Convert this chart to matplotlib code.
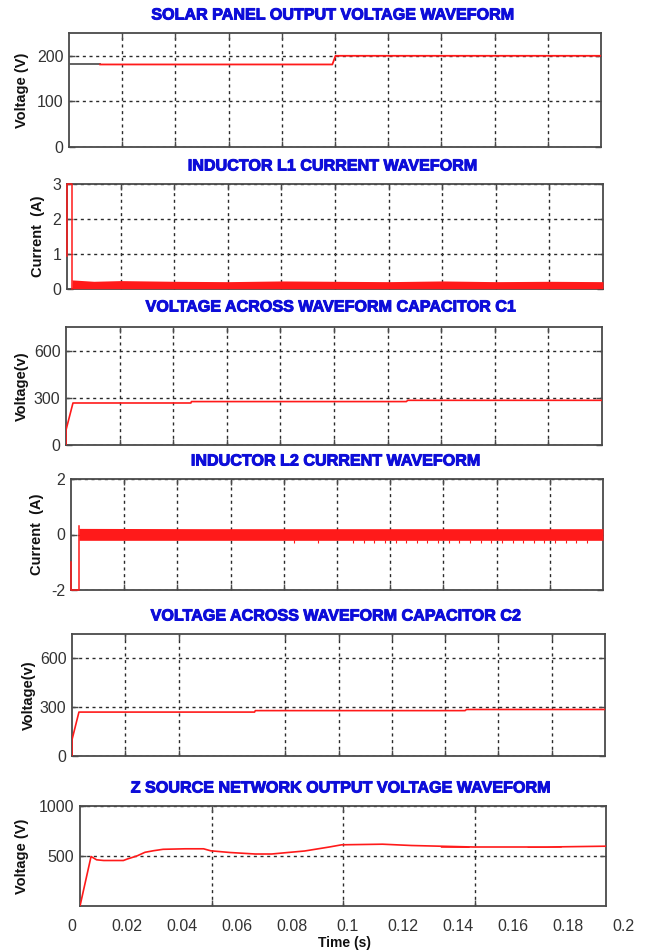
import matplotlib.pyplot as plt
import matplotlib.patheffects as pe

plt.rcParams['font.family'] = ['Liberation Sans', 'DejaVu Sans']

W, H = 646, 952
RED = '#ff1a1a'
BLUE = '#0d0dd9'
GRID = '#2a2a2a'
FRAME = '#4a4a4a'
TXT = '#333333'

# ---------------- data (time in seconds) ----------------
titles = ['SOLAR PANEL OUTPUT VOLTAGE WAVEFORM',
          'INDUCTOR L1 CURRENT WAVEFORM',
          'VOLTAGE ACROSS WAVEFORM CAPACITOR C1',
          'INDUCTOR L2 CURRENT WAVEFORM',
          'VOLTAGE ACROSS WAVEFORM CAPACITOR C2',
          'Z SOURCE NETWORK OUTPUT VOLTAGE WAVEFORM']
ylabels = ['Voltage (V)', 'Current  (A)', 'Voltage(v)',
           'Current  (A)', 'Voltage(v)', 'Voltage (V)']
ylims = [(0, 250), (0, 3), (0, 750), (-2, 2), (0, 750), (0, 1000)]
yticks = [[0, 100, 200], [0, 1, 2, 3], [0, 300, 600],
          [-2, 0, 2], [0, 300, 600], [500, 1000]]

grid_t = [0.02, 0.04, 0.06, 0.08, 0.1, 0.12, 0.14, 0.16, 0.18]
grid_t_c2 = [0.02, 0.04, 0.08, 0.1, 0.12, 0.14, 0.16, 0.18]
grid_t_z = [0.05, 0.1, 0.15]
time_ticks = [0, 0.02, 0.04, 0.06, 0.08, 0.1, 0.12, 0.14, 0.16, 0.18, 0.2]
time_labels = ['0', '0.02', '0.04', '0.06', '0.08', '0.1',
               '0.12', '0.14', '0.16', '0.18', '0.2']

# solar panel voltage
pv_init_t = [0.0, 0.0117]
pv_init_v = [181, 181]
pv_t = [0.0117, 0.0990, 0.1002, 0.2]
pv_v = [181, 181, 200, 200]

# inductor L1 current: start-up spike then switching ripple
l1_t = [0.0, 0.0, 0.0019, 0.0019]
l1_i = [0.95, 3.0, 3.0, 0.0]
l1_band_t = [0.0019, 0.01, 0.02, 0.04, 0.06, 0.08, 0.1, 0.12, 0.14, 0.16, 0.18, 0.2]
l1_band_hi = [0.26, 0.22, 0.24, 0.22, 0.21, 0.23, 0.22, 0.21, 0.23, 0.21, 0.22, 0.21]
l1_band_lo = [0.01, 0.01, 0.01, 0.01, 0.01, 0.01, 0.01, 0.01, 0.01, 0.01, 0.01, 0.01]

# capacitor C1 voltage
c1_t = [0.0, 0.0, 0.0026, 0.0466, 0.0468, 0.127, 0.1275, 0.2]
c1_v = [0, 95, 267, 267, 276, 276, 284, 284]

# inductor L2 current
l2_t = [0.0, 0.0, 0.003, 0.003]
l2_i = [-1.0, -2.0, -2.0, 0.3]
l2_band_t = [0.003, 0.05, 0.1, 0.15, 0.2]
l2_band_hi = [0.22, 0.21, 0.21, 0.21, 0.21]
l2_band_lo = [-0.21, -0.21, -0.21, -0.21, -0.21]
l2_notch_t = [0.084, 0.093, 0.106, 0.110, 0.114, 0.118, 0.122, 0.126,
              0.130, 0.134, 0.138, 0.142, 0.146, 0.150, 0.154, 0.158,
              0.162, 0.166, 0.170, 0.174, 0.178, 0.182, 0.186, 0.190, 0.194]
l2_notch_depth = -0.29

# capacitor C2 voltage
c2_t = [0.0, 0.0, 0.0026, 0.0685, 0.0688, 0.1475, 0.148, 0.2]
c2_v = [0, 100, 270, 270, 279, 279, 286, 286]

# Z source network output voltage
z_t = [0.0, 0.0042, 0.0063, 0.009, 0.0165, 0.018, 0.0216, 0.0247, 0.028,
       0.0316, 0.04, 0.047, 0.0497, 0.057, 0.0666, 0.0729, 0.079, 0.0854,
       0.0948, 0.0995, 0.115, 0.126, 0.1385, 0.1495, 0.1776, 0.2]
z_v = [0, 495, 462, 455, 455, 470, 500, 537, 553, 567, 572, 572, 552, 535,
       520, 520, 535, 550, 590, 612, 618, 605, 597, 590, 590, 598]
z_rip_t = [[0.137, 0.148], [0.170, 0.183]]
z_rip_lo = [[587, 585], [586, 588]]
z_rip_hi = [[598, 596], [596, 598]]

# ---------------- layout (pixels) ----------------
boxes = [(69, 601, 33, 147), (67, 603, 184, 289), (66, 602, 327, 445),
         (71, 603, 479, 590), (72, 605, 634, 756), (80, 606, 806, 906)]
title_xy = [(333, 15), (333, 166), (331, 307), (336, 461), (336, 616), (341, 788)]
ylabel_x = [22, 38, 22, 37, 29, 22]
xgrids = [grid_t, grid_t, grid_t, grid_t, grid_t_c2, grid_t_z]

heavy = [pe.withStroke(linewidth=0.7, foreground=BLUE)]

fig = plt.figure(figsize=(W / 100, H / 100), dpi=100)
axes = []
for i, (l, r, t, b) in enumerate(boxes):
    ax = fig.add_axes([l / W, 1 - b / H, (r - l) / W, (b - t) / H])
    ax.set_xlim(0, 0.2)
    ax.set_ylim(*ylims[i])
    ax.set_xticks(xgrids[i])
    ax.set_xticklabels([])
    ax.set_yticks(yticks[i])
    ax.set_yticklabels([str(v) for v in yticks[i]])
    ax.tick_params(direction='in', top=True, right=True, length=4, width=1,
                   color=FRAME, labelsize=11.5, labelcolor=TXT, pad=4)
    ax.grid(True, linestyle=(0, (2.2, 2.6)), color=GRID, lw=1.0)
    for s in ax.spines.values():
        s.set_color(FRAME)
        s.set_linewidth(1.3)
    ax.set_ylabel(ylabels[i], fontweight='bold', fontsize=10.5, va='center', color='#111')
    ax.yaxis.set_label_coords(ylabel_x[i] / W, 1 - (t + b) / 2 / H, transform=fig.transFigure)
    fig.text(title_xy[i][0] / W, 1 - title_xy[i][1] / H, titles[i], ha='center', va='center',
             color=BLUE, fontsize=11.6, fontweight='bold', path_effects=heavy)
    axes.append(ax)

ax1, ax2, ax3, ax4, ax5, ax6 = axes

ax1.plot(pv_init_t, pv_init_v, color='#555555', lw=1.3, zorder=3)
ax1.plot(pv_t, pv_v, color=RED, lw=1.3, zorder=3)

ax2.plot(l1_t, l1_i, color=RED, lw=1.1, zorder=3, clip_on=False)
ax2.fill_between(l1_band_t, l1_band_lo, l1_band_hi, color=RED, lw=0, zorder=3)

ax3.plot(c1_t, c1_v, color=RED, lw=1.2, zorder=3)

ax4.plot(l2_t, l2_i, color=RED, lw=1.1, zorder=3, clip_on=False)
ax4.fill_between(l2_band_t, l2_band_lo, l2_band_hi, color=RED, lw=0, zorder=3)
ax4.vlines(l2_notch_t, l2_band_lo[0], l2_notch_depth, color=RED, lw=0.8, zorder=3)

ax5.plot(c2_t, c2_v, color=RED, lw=1.2, zorder=3)

ax6.plot(z_t, z_v, color=RED, lw=1.2, zorder=3)
for rt, lo, hi in zip(z_rip_t, z_rip_lo, z_rip_hi):
    ax6.fill_between(rt, lo, hi, color=RED, lw=0, zorder=3)

# time scale printed under the last panel
lab = fig.add_axes([72 / W, 1 - 906 / H, 551 / W, 0.0001])
lab.set_xlim(0, 0.2)
lab.set_xticks(time_ticks)
lab.set_xticklabels(time_labels)
lab.set_yticks([])
lab.tick_params(axis='x', length=0, pad=9.5, labelsize=11.5, labelcolor=TXT)
for s in lab.spines.values():
    s.set_visible(False)
lab.patch.set_visible(False)
lab.set_xlabel('Time (s)', fontweight='bold', fontsize=10, va='center', color='#111')
lab.xaxis.set_label_coords(345 / W, 1 - 943 / H, transform=fig.transFigure)

fig.savefig('out.png', dpi=100)
